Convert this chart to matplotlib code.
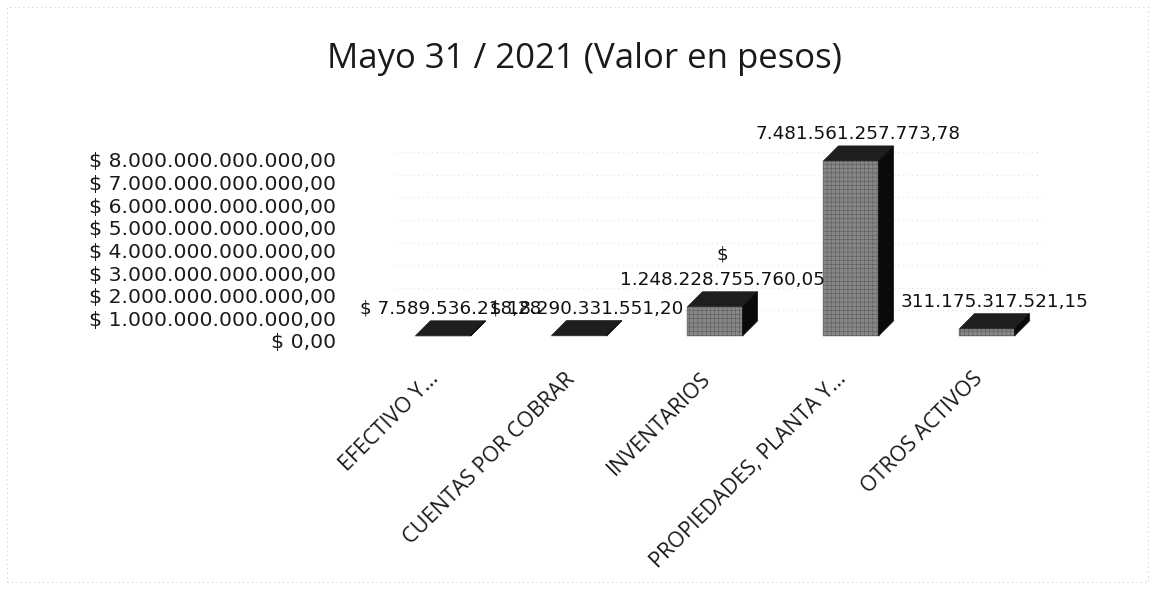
import matplotlib.pyplot as plt
from matplotlib.patches import Polygon, Rectangle

# datos (valores en pesos)
categorias = ['EFECTIVO Y...', 'CUENTAS POR COBRAR', 'INVENTARIOS',
              'PROPIEDADES, PLANTA Y...', 'OTROS ACTIVOS']
valores = [7589536218.28, 18290331551.20, 1248228755760.05,
           7481561257773.78, 311175317521.15]
etiquetas = ['$ 7.589.536.218,28', '$ 18.290.331.551,20',
             '$\n1.248.228.755.760,05', '7.481.561.257.773,78',
             '311.175.317.521,15']
ticks_y = [0, 1e12, 2e12, 3e12, 4e12, 5e12, 6e12, 7e12, 8e12]


def pesos(v):
    s = f'{v:,.2f}'.replace(',', 'X').replace('.', ',').replace('X', '.')
    return '$ ' + s


plt.rcParams['hatch.linewidth'] = 0.4

fig = plt.figure(figsize=(11.55, 5.89), dpi=100)
rect = [0.3247, 0.4143, 0.5946, 0.3650]

# eje de etiquetas del eje y (escala del "muro" 3D)
ax_y = fig.add_axes(rect)
ax_y.set_ylim(-0.177e12, 9.326e12)
ax_y.set_xlim(0, 1)
ax_y.set_yticks(ticks_y, [pesos(v) for v in ticks_y])
ax_y.tick_params(axis='y', length=0, pad=28, labelsize=14.7, labelcolor='#1a1a1a')
ax_y.set_xticks([])
for s in ax_y.spines.values():
    s.set_visible(False)
for t in ticks_y[1:]:
    ax_y.axhline(t + 0.35e12, xmin=0.03, xmax=0.97, color='#e2e2e2',
                 lw=0.8, ls=(0, (1, 3)), zorder=0)

# eje de las barras
ax = fig.add_axes(rect)
ax.patch.set_alpha(0)
ax.set_xlim(-0.5, 4.55)
ax.set_ylim(-0.385e12, 8.803e12)
for s in ax.spines.values():
    s.set_visible(False)
ax.set_yticks([])

w = 0.405
dx = 0.11
dy = 0.641e12
x = range(len(valores))

ax.bar(x, valores, width=w, color='#878787', edgecolor='#5c5c5c',
       hatch='++++', linewidth=0.3, zorder=3)
for i, v in zip(x, valores):
    top = [(i - w/2, v), (i + w/2, v), (i + w/2 + dx, v + dy), (i - w/2 + dx, v + dy)]
    side = [(i + w/2, 0), (i + w/2 + dx, dy), (i + w/2 + dx, v + dy), (i + w/2, v)]
    ax.add_patch(Polygon(top, closed=True, facecolor='#1e1e1e', edgecolor='#1e1e1e',
                         lw=0.5, zorder=4))
    ax.add_patch(Polygon(side, closed=True, facecolor='#0a0a0a', edgecolor='#0a0a0a',
                         lw=0.5, zorder=4))

for i, v, lab in zip(x, valores, etiquetas):
    ax.annotate(lab, xy=(i + dx/2, v), xytext=(0, 18), textcoords='offset pixels',
                ha='center', va='bottom', fontsize=13.2, color='#111111',
                linespacing=1.5, multialignment='center', zorder=5)

ax.set_xticks(list(x), categorias, rotation=45, ha='right',
              fontsize=15.5, family='Open Sans', color='#1a1a1a')
ax.tick_params(axis='x', length=0, pad=17)

fig.text(0.506, 0.900, 'Mayo 31 / 2021 (Valor en pesos)', ha='center', va='center',
         fontsize=25, family='Open Sans', color='#1a1a1a')

# marco punteado tenue
fig.patches.append(Rectangle((0.006, 0.012), 0.988, 0.976, transform=fig.transFigure,
                             fill=False, edgecolor='#d0d0d0', lw=0.8, ls=(0, (1, 3))))

fig.savefig('out.png', dpi=100)
